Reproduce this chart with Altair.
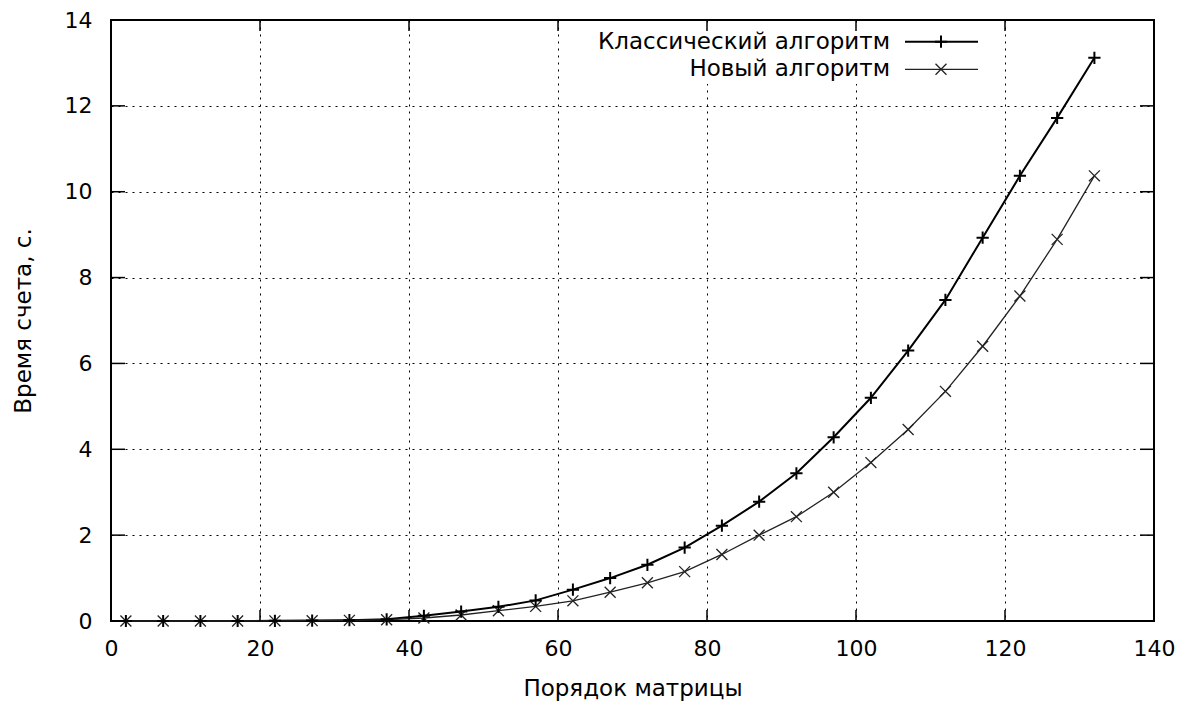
import altair as alt
import pandas as pd

# ---- data ----
x_order = [2, 7, 12, 17, 22, 27, 32, 37, 42, 47, 52, 57, 62, 67, 72, 77, 82, 87,
           92, 97, 102, 107, 112, 117, 122, 127, 132]
classic_time = [0.0, 0.0, 0.0, 0.0, 0.005, 0.01, 0.02, 0.04, 0.12, 0.22, 0.33, 0.48,
                0.73, 1.0, 1.31, 1.71, 2.22, 2.78, 3.44, 4.28, 5.2, 6.3, 7.48, 8.93,
                10.37, 11.72, 13.12]
new_time = [0.0, 0.0, 0.0, 0.0, 0.004, 0.008, 0.015, 0.03, 0.07, 0.14, 0.24, 0.34,
            0.47, 0.67, 0.89, 1.15, 1.55, 2.0, 2.43, 3.0, 3.69, 4.46, 5.35, 6.4,
            7.57, 8.89, 10.37]
series_names = ["Классический алгоритм", "Новый алгоритм"]
x_ticks = [0, 20, 40, 60, 80, 100, 120, 140]
y_ticks = [0, 2, 4, 6, 8, 10, 12, 14]
x_title = "Порядок матрицы"
y_title = "Время счета, с."

W, H = 1043, 601
FONT = "DejaVu Sans"
FS = 22
FS_T = 23

df_c = pd.DataFrame({"n": x_order, "t": classic_time})
df_n = pd.DataFrame({"n": x_order, "t": new_time})
df_xt = pd.DataFrame({"n": x_ticks})
df_yt = pd.DataFrame({"t": y_ticks})

xs = alt.Scale(domain=[0, 140], nice=False, zero=False)
ys = alt.Scale(domain=[0, 14], nice=False, zero=False)

PLUS = "M-1,0H1M0,-1V1"
CROSS = "M-1,-1L1,1M-1,1L1,-1"

common_axis = dict(grid=True, gridDash=[2, 5], gridColor="black", gridOpacity=1,
                   gridWidth=1, ticks=False, tickSize=0, domain=False,
                   labelFontSize=FS, labelFont=FONT, labelColor="black",
                   labelFlush=False, labelOverlap=False,
                   titleFontSize=FS_T, titleFont=FONT, titleFontWeight="normal",
                   titleColor="black")
x_axis = alt.Axis(values=x_ticks, title=x_title, labelPadding=17, titlePadding=18,
                  **common_axis)
y_axis = alt.Axis(values=y_ticks, title=y_title, labelPadding=19, titlePadding=29,
                  **common_axis)

X = alt.X("n:Q", scale=xs, axis=x_axis)
Y = alt.Y("t:Q", scale=ys, axis=y_axis)

line_c = alt.Chart(df_c).mark_line(color="black", strokeWidth=2).encode(x=X, y=Y)
pts_c = alt.Chart(df_c).mark_point(shape=PLUS, size=150, filled=False,
                                   color="black", strokeWidth=2, opacity=1).encode(x=X, y=Y)
line_n = alt.Chart(df_n).mark_line(color="#222222", strokeWidth=1.3).encode(x=X, y=Y)
pts_n = alt.Chart(df_n).mark_point(shape=CROSS, size=120, filled=False,
                                   color="#222222", strokeWidth=1.3, opacity=1).encode(x=X, y=Y)

# inner ticks on all four sides (gnuplot style)
tick_b = alt.Chart(df_xt).mark_rule(color="black", strokeWidth=1.5).encode(
    x=X, y=alt.value(H), y2=alt.value(H - 11))
tick_t = alt.Chart(df_xt).mark_rule(color="black", strokeWidth=1.5).encode(
    x=X, y=alt.value(0), y2=alt.value(11))
tick_l = alt.Chart(df_yt).mark_rule(color="black", strokeWidth=1.5).encode(
    y=Y, x=alt.value(0), x2=alt.value(14))
tick_r = alt.Chart(df_yt).mark_rule(color="black", strokeWidth=1.5).encode(
    y=Y, x=alt.value(W), x2=alt.value(W - 14))

# legend (label left, sample right), with white backdrop hiding the grid
legend_bg = alt.Chart(pd.DataFrame({"a": [0]})).mark_rect(color="white").encode(
    x=alt.value(462), x2=alt.value(872), y=alt.value(3), y2=alt.value(64))
leg_y = [21.7, 49.3]
leg = []
for name, yy, shape, sz, sw, col in [
        (series_names[0], leg_y[0], PLUS, 150, 2, "black"),
        (series_names[1], leg_y[1], CROSS, 120, 1.3, "#222222")]:
    base = alt.Chart(pd.DataFrame({"label": [name]}))
    leg.append(base.mark_text(align="right", baseline="middle", font=FONT,
                              fontSize=FS_T, color="black").encode(
        text="label:N", x=alt.value(779), y=alt.value(yy)))
    leg.append(base.mark_rule(color=col, strokeWidth=sw).encode(
        x=alt.value(794), x2=alt.value(867), y=alt.value(yy)))
    leg.append(base.mark_point(shape=shape, size=sz, filled=False, color=col,
                               strokeWidth=sw, opacity=1).encode(
        x=alt.value(830), y=alt.value(yy)))

chart = alt.layer(
    line_c, legend_bg, line_n, pts_n, pts_c,
    tick_b, tick_t, tick_l, tick_r, *leg
).properties(
    width=W, height=H,
    autosize=alt.AutoSizeParams(type="none"),
    padding={"left": 103, "top": 12, "right": 26, "bottom": 86},
    background="white",
).configure(font=FONT).configure_view(stroke="black", strokeWidth=2)

chart.save("out.html", embed_options={"renderer": "svg", "actions": False})
